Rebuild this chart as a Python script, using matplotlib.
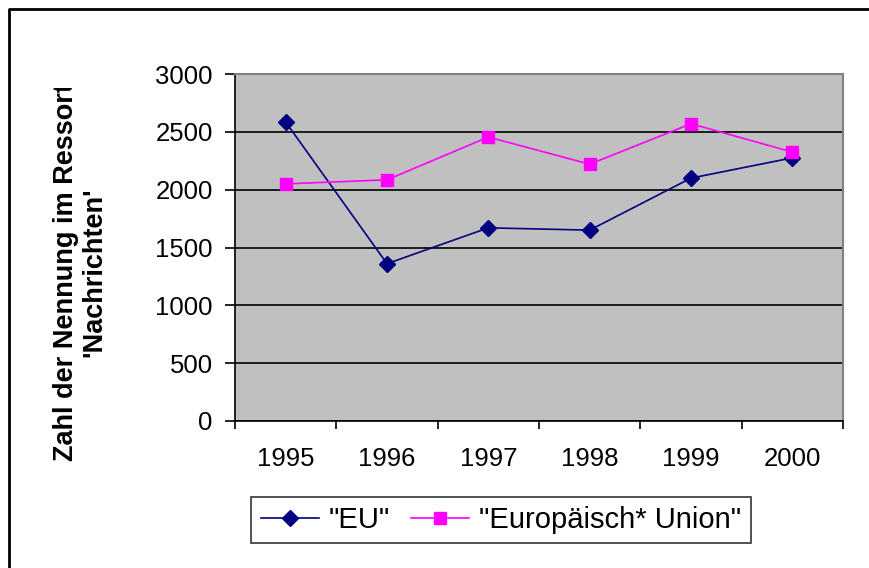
import matplotlib
matplotlib.use('Agg')
import matplotlib.pyplot as plt
from matplotlib.lines import Line2D
from matplotlib.transforms import Bbox, TransformedBbox

plt.rcParams['font.family'] = ['Liberation Sans', 'DejaVu Sans']

# Daten
jahre = ['1995', '1996', '1997', '1998', '1999', '2000']
eu = [2585, 1360, 1670, 1650, 2100, 2275]
europaeische_union = [2050, 2085, 2455, 2220, 2570, 2325]
y_ticks = [0, 500, 1000, 1500, 2000, 2500, 3000]

fig = plt.figure(figsize=(8.7, 5.68), dpi=100)
ax = fig.add_axes([235 / 870, 1 - 421 / 568, 608 / 870, 347 / 568])
ax.set_facecolor('#C0C0C0')

x = list(range(len(jahre)))
ax.plot(x, eu, color='#000080', lw=1.2, marker='D', ms=8,
        label='"EU"', zorder=3)
ax.plot(x, europaeische_union, color='#FF00FF', lw=1.2, marker='s', ms=8.5,
        label='"Europäisch* Union"', zorder=3)

ax.set_xlim(-0.5, len(jahre) - 0.5)
ax.set_ylim(0, 3000)
ax.set_yticks(y_ticks)
ax.yaxis.grid(True, color='black', lw=1.2)
ax.set_axisbelow(True)

# Kategorien: Striche zwischen den Jahren, Beschriftung in der Mitte
ax.set_xticks([i - 0.5 for i in range(len(jahre) + 1)])
ax.set_xticklabels([])
ax.set_xticks(x, minor=True)
ax.set_xticklabels(jahre, minor=True)
ax.tick_params(axis='x', which='major', length=6, width=1.2, direction='out')
ax.tick_params(axis='x', which='minor', length=0, pad=19, labelsize=18.5)
ax.tick_params(axis='y', length=7, width=1.2, direction='out', pad=9, labelsize=18.5)

for s in ['top', 'right']:
    ax.spines[s].set_color('#808080')
    ax.spines[s].set_linewidth(1.5)
for s in ['left', 'bottom']:
    ax.spines[s].set_color('black')
    ax.spines[s].set_linewidth(1.2)

# Achsentitel (oben abgeschnitten wie im Original)
t = fig.text(80 / 870, 1 - 272 / 568,
             "Zahl der Nennung im Ressort\n'Nachrichten'",
             rotation=90, ha='center', va='center', multialignment='center',
             fontsize=19.5, fontweight='bold', linespacing=1.1)
t.set_clip_box(TransformedBbox(Bbox([[0, 0], [1, 1 - 88 / 568]]), fig.transFigure))
t.set_clip_on(True)

leg = fig.legend(loc='center', bbox_to_anchor=(501 / 870, 1 - 520 / 568),
                 ncol=2, fontsize=21, frameon=True, fancybox=False,
                 edgecolor='black', handlelength=2.0, columnspacing=0.7,
                 handletextpad=0.35, borderpad=0.32, borderaxespad=0)
leg.get_frame().set_linewidth(1.2)

# Rahmen des Diagramms
fig.add_artist(Line2D([9 / 870, 9 / 870, 1], [0, 1 - 9 / 568, 1 - 9 / 568],
                      transform=fig.transFigure, color='black', lw=2))

fig.savefig('out.png', dpi=100)
